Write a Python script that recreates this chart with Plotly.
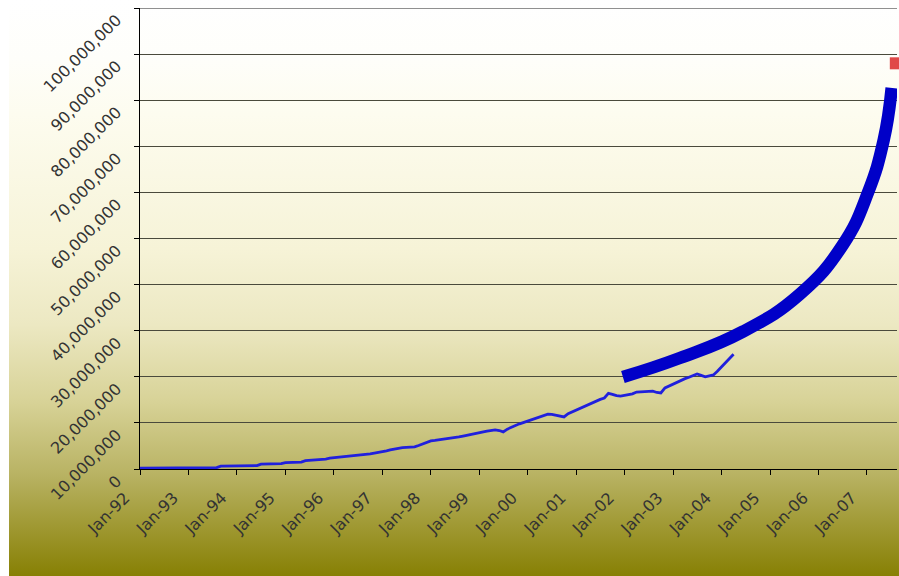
import base64
import pandas as pd
import plotly.graph_objects as go

# ---- data (millions), monthly from Jan-1992 ----
start_month = "1992-01-01"
values_m = [
    0.20, 0.20, 0.21, 0.21, 0.22, 0.22, 0.23, 0.23, 0.24, 0.24, 0.25, 0.25,
    0.26, 0.26, 0.27, 0.27, 0.28, 0.28, 0.29, 0.29, 0.62, 0.64, 0.65, 0.66,
    0.67, 0.68, 0.69, 0.70, 0.71, 0.72, 1.05, 1.08, 1.10, 1.12, 1.14, 1.16,
    1.40, 1.42, 1.45, 1.48, 1.50, 1.80, 1.86, 1.92, 1.98, 2.05, 2.15, 2.35,
    2.45, 2.52, 2.58, 2.65, 2.72, 2.80, 2.88, 2.98, 3.15, 3.30, 3.45, 3.58,
    3.70, 3.95, 4.15, 4.35, 4.60, 4.65, 4.70, 4.75, 4.80, 5.10, 5.45, 5.80,
    6.10, 6.20, 6.30, 6.40, 6.55, 6.65, 6.70, 6.95, 7.15, 7.35, 7.60, 7.75,
    7.90, 8.05, 8.20, 8.35, 8.50, 8.35, 8.05, 8.65, 9.10, 9.45, 9.80, 10.10,
    10.40, 10.60, 10.90, 11.20, 11.55, 11.90, 11.85, 11.70, 11.50, 11.30, 12.00, 12.40,
    12.80, 13.20, 13.55, 13.90, 14.30, 14.75, 15.10, 15.40, 16.40, 16.20, 15.90, 15.80,
    15.95, 16.10, 16.30, 16.70, 16.75, 16.80, 16.85, 16.90, 16.60, 16.50, 17.60, 18.00,
    18.40, 18.90, 19.30, 19.60, 19.90, 20.20, 20.60, 20.30, 20.00, 20.20, 20.40, 21.20,
    22.10, 23.00, 24.00, 24.90,
]

# hand-drawn projection curve (date, millions)
proj_dates = ["2001-12-19", "2003-02-21", "2004-06-10", "2005-08-13",
              "2006-07-03", "2007-01-08", "2007-05-08", "2007-07-07"]
proj_values = [19.96, 24.08, 29.80, 37.90, 48.59, 59.87, 71.37, 82.65]

# target point
target_date = ["2007-08-07"]
target_value = [88.0]

year_ticks = [f"{y}-01-01" for y in range(1992, 2008)]
year_labels = [f"Jan-{str(y)[2:]}" for y in range(1992, 2008)]
y_ticks = [i * 10_000_000 for i in range(11)]
y_labels = ["0"] + [f"{i * 10},000,000" for i in range(1, 11)]

dates = pd.date_range(start_month, periods=len(values_m), freq="MS")

fig = go.Figure()
fig.add_trace(go.Scatter(
    x=dates, y=[v * 1e6 for v in values_m], mode="lines",
    line=dict(color="#2020dd", width=2.8), showlegend=False))
fig.add_trace(go.Scatter(
    x=proj_dates, y=[v * 1e6 for v in proj_values], mode="lines",
    line=dict(color="#0000c8", width=12.5, shape="spline", smoothing=1.3),
    showlegend=False))
fig.add_trace(go.Scatter(
    x=target_date, y=[v * 1e6 for v in target_value], mode="markers",
    marker=dict(symbol="square", size=12, color="#e04848"),
    cliponaxis=False, showlegend=False))

# gradient background
svg = """<svg xmlns='http://www.w3.org/2000/svg' width='100' height='576' preserveAspectRatio='none'>
<defs><linearGradient id='g' x1='0' y1='0' x2='0' y2='1'>
<stop offset='0' stop-color='#ffffff'/>
<stop offset='0.10' stop-color='#fefefa'/>
<stop offset='0.20' stop-color='#fdfcef'/>
<stop offset='0.43' stop-color='#f6f3d7'/>
<stop offset='0.56' stop-color='#ece8c2'/>
<stop offset='0.69' stop-color='#d8d398'/>
<stop offset='0.82' stop-color='#b8b262'/>
<stop offset='1' stop-color='#857e00'/>
</linearGradient></defs>
<rect x='0' y='0' width='100' height='576' fill='url(#g)'/></svg>"""
src = "data:image/svg+xml;base64," + base64.b64encode(svg.encode()).decode()

L, R, T, B = 140, 2, 8, 107
W, H = 899, 576
pw, ph = W - L - R, H - T - B
fig.add_layout_image(dict(
    source=src, xref="paper", yref="paper",
    x=(9 - L) / pw, y=(H - B) / ph + 0.001,
    sizex=(W - 9) / pw, sizey=H / ph + 0.01,
    xanchor="left", yanchor="top", sizing="stretch", layer="below"))

# gridline at axis maximum
fig.add_shape(type="line", xref="paper", x0=0, x1=1, yref="y",
              y0=y_ticks[-1], y1=y_ticks[-1], line=dict(color="#222222", width=1.2))

tickfont = dict(family="DejaVu Sans", size=16, color="#333333")
fig.update_layout(
    width=W, height=H,
    margin=dict(l=L, r=R, t=T, b=B, autoexpand=False),
    paper_bgcolor="white", plot_bgcolor="rgba(0,0,0,0)",
    xaxis=dict(
        type="date", range=["1992-01-01", "2007-08-16"], automargin=False,
        tickvals=year_ticks, ticktext=year_labels, tickangle=-45,
        ticks="outside", ticklen=5, tickcolor="black",
        showline=True, linecolor="black", linewidth=1.2,
        showgrid=False, zeroline=False, tickfont=tickfont,
        ticklabelshift=-15, ticklabelstandoff=7),
    yaxis=dict(
        range=[0, 100_000_000], tickvals=y_ticks, ticktext=y_labels, automargin=False,
        tickangle=-45, ticks="outside", ticklen=5, tickcolor="black",
        showline=True, linecolor="black", linewidth=1.2,
        showgrid=True, gridcolor="#4a4a3c", gridwidth=1.1,
        zeroline=False, tickfont=tickfont,
        ticklabelshift=10, ticklabelstandoff=14),
)

fig.write_html(
    "out.html",
    config={"displayModeBar": False},
    post_script="document.body.style.margin='0';document.body.style.overflow='hidden';",
)
